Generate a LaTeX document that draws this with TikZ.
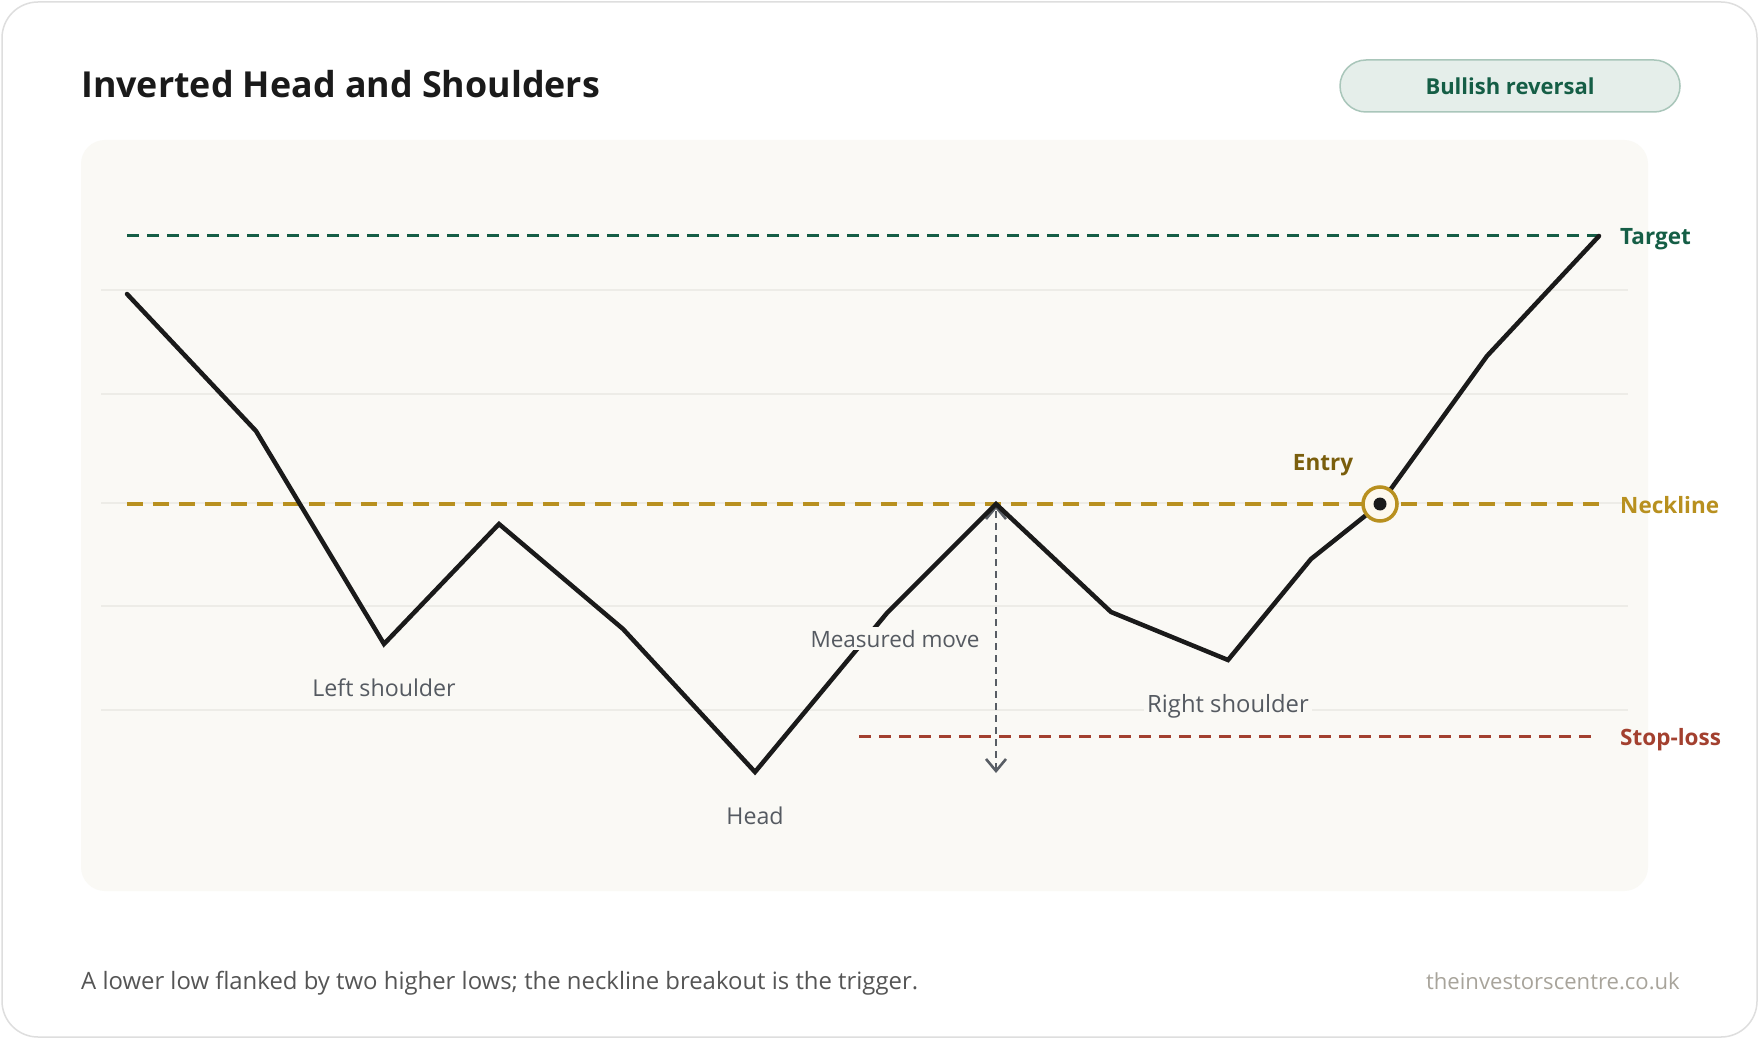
\documentclass[tikz,border=0pt]{standalone}
\usepackage{fontspec}
\setmainfont{Open Sans}
\usetikzlibrary{arrows.meta}
\definecolor{cardborder}{HTML}{DEDEDE}
\definecolor{panelc}{HTML}{FAF9F5}
\definecolor{gridc}{HTML}{EDECE7}
\definecolor{titlec}{HTML}{1A1A1A}
\definecolor{greenc}{HTML}{155E46}
\definecolor{badgefill}{HTML}{E5EEEA}
\definecolor{badgeborder}{HTML}{A9C6BA}
\definecolor{goldc}{HTML}{B8901F}
\definecolor{entryc}{HTML}{7A5E0C}
\definecolor{ringfill}{HTML}{FDF8EC}
\definecolor{redc}{HTML}{A3402F}
\definecolor{labelc}{HTML}{555A61}
\definecolor{arrowc}{HTML}{585D64}
\definecolor{footc}{HTML}{555555}
\definecolor{sitec}{HTML}{A8A49B}
\definecolor{pricec}{HTML}{1A1A1A}
\begin{document}
\begin{tikzpicture}[x=1pt,y=-1pt,
  lbl/.style={font=\fontsize{23.2}{28}\selectfont, text=labelc, fill=panelc, inner sep=3pt, anchor=base},
  sidelbl/.style={font=\fontsize{22.5}{27}\selectfont\bfseries, inner sep=0pt, anchor=base west},
  gridline/.style={gridc, line width=1.2pt},
  badge/.style={draw=badgeborder, fill=badgefill, line width=1.5pt, rounded corners=26pt, minimum width=340pt, minimum height=52pt, inner sep=0pt, text=greenc, font=\fontsize{22}{26}\selectfont\bfseries},
  pricepath/.style={pricec, line width=4.5pt, line join=miter, line cap=round},
  mmarrow/.style={arrowc, line width=2.6pt, dash pattern=on 7pt off 5pt, {Straight Barb[length=12pt,width=20pt]}-{Straight Barb[length=12pt,width=20pt]}}
]
\useasboundingbox (0,0) rectangle (1760,1040);
\fill[white] (0,0) rectangle (1760,1040);
\draw[cardborder, line width=1.5pt, fill=white, rounded corners=36pt] (2,2) rectangle (1757,1037);
% panel
\fill[panelc, rounded corners=24pt] (81,140) rectangle (1648,891);
\foreach \yy in {290,394,503,606,710} \draw[gridline] (101,\yy) -- (1628,\yy);
% title and badge
\node[anchor=base west, inner sep=0pt, text=titlec, font=\fontsize{35.8}{42}\selectfont\bfseries] (title) at (81,98) {Inverted Head and Shoulders};
\node[badge] (badge) at (1510,86) {Bullish reversal};
% level lines
\coordinate (tgtL) at (127,236); \coordinate (tgtR) at (1599,236);
\coordinate (neckL) at (127,504); \coordinate (neckR) at (1599,504);
\coordinate (stopL) at (859,736); \coordinate (stopR) at (1594,736);
\draw[greenc, line width=3pt, dash pattern=on 12pt off 8pt] (tgtL) -- (tgtR);
\draw[goldc, line width=3.5pt, dash pattern=on 16pt off 10pt] (neckL) -- (neckR);
\draw[redc, line width=3pt, dash pattern=on 12pt off 8pt] (stopL) -- (stopR);
% measured move
\coordinate (mmtop) at (996,505);
\coordinate (mmbot) at (996,773);
\draw[mmarrow] (mmbot) -- (mmtop);
% price path
\coordinate (p0) at (127,294);
\coordinate (p1) at (256,431);
\coordinate (p2) at (384,644);
\coordinate (p3) at (499,524);
\coordinate (p4) at (623,629);
\coordinate (p5) at (755,772);
\coordinate (p6) at (887,613);
\coordinate (p7) at (996,504);
\coordinate (p8) at (1111,612);
\coordinate (p9) at (1228,660);
\coordinate (p10) at (1311,559);
\coordinate (p11) at (1380,504);
\coordinate (p12) at (1487,356);
\coordinate (p13) at (1599,236);
\draw[pricepath] (p0) -- (p1) -- (p2) -- (p3) -- (p4) -- (p5) -- (p6) -- (p7) -- (p8) -- (p9) -- (p10) -- (p11) -- (p12) -- (p13);
% labels
\node[lbl] (lsh) at (384,696) {Left shoulder};
\node[lbl] (head) at (755,824) {Head};
\node[lbl, font=\fontsize{23.8}{28}\selectfont] (rsh) at (1228,712) {Right shoulder};
\node[lbl, font=\fontsize{22.5}{27}\selectfont] (mm) at (895,647) {Measured move};
\node[sidelbl, text=greenc] (tgtlbl) at (1620,245) {Target};
\node[sidelbl, text=goldc] (necklbl) at (1620,513) {Neckline};
\node[sidelbl, text=redc] (stoplbl) at (1620,745) {Stop-loss};
\node[font=\fontsize{22.5}{27}\selectfont\bfseries, text=entryc, inner sep=0pt, anchor=base] (entrylbl) at (1323,470) {Entry};
% entry marker
\node[circle, draw=goldc, line width=3.5pt, fill=ringfill, minimum size=34pt, inner sep=0pt] (entry) at (p11) {};
\fill[pricec] (entry.center) circle (6.5);
% footer
\node[anchor=base west, inner sep=0pt, text=footc, font=\fontsize{23.9}{28}\selectfont] (foot) at (81,989) {A lower low flanked by two higher lows; the neckline breakout is the trigger.};
\node[anchor=base east, inner sep=0pt, text=sitec, font=\fontsize{22.1}{26}\selectfont] (site) at (1680,989) {theinvestorscentre.co.uk};
\end{tikzpicture}
\end{document}
